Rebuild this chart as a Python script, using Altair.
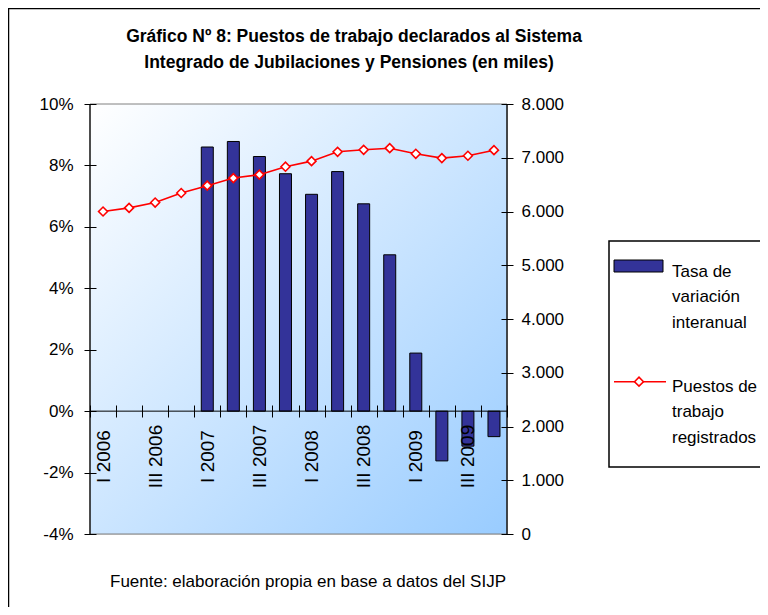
import altair as alt
import pandas as pd

quarters = ["I 2006", "II 2006", "III 2006", "IV 2006",
            "I 2007", "II 2007", "III 2007", "IV 2007",
            "I 2008", "II 2008", "III 2008", "IV 2008",
            "I 2009", "II 2009", "III 2009", "IV 2009"]
tasa = [None, None, None, None,
        8.60, 8.78, 8.29, 7.73,
        7.06, 7.80, 6.75, 5.09,
        1.89, -1.62, -1.14, -0.83]
puestos = [6000, 6067, 6167, 6344,
           6481, 6622, 6685, 6833,
           6937, 7111, 7148, 7178,
           7074, 6994, 7037, 7141]
pct_ticks = [-4, -2, 0, 2, 4, 6, 8, 10]
miles_ticks = [0, 1000, 2000, 3000, 4000, 5000, 6000, 7000, 8000]

title_lines = ["Gráfico Nº 8: Puestos de trabajo declarados al Sistema",
               "Integrado de Jubilaciones y Pensiones (en miles)"]
footer = "Fuente: elaboración propia en base a datos del SIJP"
leg_bar = ["Tasa de", "variación", "interanual"]
leg_line = ["Puestos de", "trabajo", "registrados"]

df = pd.DataFrame({"trimestre": quarters, "tasa": tasa, "puestos": puestos})
dummy = pd.DataFrame({"a": [0]})

W, H = 417, 430
FONT = "Liberation Sans"

x_axis = alt.Axis(
    orient="bottom", offset=-129, domain=False, tickSize=12, tickColor="black",
    tickBand="extent", labelAngle=270, labelAlign="center", labelBaseline="middle",
    labelPadding=39, labelFontSize=19, labelColor="black", labelFont=FONT,
    title=None, zindex=1,
    labelExpr="split(datum.value, ' ')[0] == 'II' || split(datum.value, ' ')[0] == 'IV' ? '' : datum.value",
)
x_enc = alt.X("trimestre:N", sort=quarters,
              scale=alt.Scale(paddingInner=0, paddingOuter=0), axis=x_axis)

bg = alt.Chart(dummy).mark_rect(
    fill=alt.LinearGradient(gradient="linear",
                            stops=[alt.GradientStop(color="#FFFFFF", offset=0),
                                   alt.GradientStop(color="#99CCFF", offset=1)],
                            x1=0, y1=0, x2=1, y2=1),
    stroke="#808080", strokeWidth=1,
).encode(x=alt.value(0), x2=alt.value(W), y=alt.value(0), y2=alt.value(H))

bars = alt.Chart(df).mark_bar(size=12, color="#333399", stroke="black", strokeWidth=1).encode(
    x=x_enc,
    y=alt.Y("tasa:Q", scale=alt.Scale(domain=[-4, 10], nice=False),
            axis=alt.Axis(orient="left", values=pct_ticks, offset=-6, domain=False,
                          tickSize=12, tickColor="black", labelPadding=11,
                          labelFontSize=17, labelColor="black", labelFont=FONT,
                          labelExpr="datum.value + '%'", title=None, grid=False, zindex=1)),
)
zero = alt.Chart(dummy).mark_rule(color="black", strokeWidth=1).encode(y=alt.datum(0))
dom_l = alt.Chart(dummy).mark_rule(color="black", strokeWidth=1.2).encode(
    x=alt.value(0), y=alt.value(0), y2=alt.value(H))
dom_r = alt.Chart(dummy).mark_rule(color="black", strokeWidth=1.2).encode(
    x=alt.value(W), y=alt.value(0), y2=alt.value(H))

left = alt.layer(bg, bars, zero, dom_l, dom_r)

y_r = alt.Y("puestos:Q", scale=alt.Scale(domain=[0, 8000], nice=False),
            axis=alt.Axis(orient="right", values=miles_ticks, offset=-6, domain=False,
                          tickSize=12, tickColor="black", labelPadding=8,
                          labelFontSize=17, labelColor="black", labelFont=FONT,
                          labelExpr="replace(format(datum.value, ','), ',', '.')",
                          title=None, grid=False, zindex=1))
line = alt.Chart(df).mark_line(color="#FF0000", strokeWidth=1.6).encode(x=x_enc, y=y_r)
pts = alt.Chart(df).mark_point(shape="diamond", filled=True, fill="white", stroke="#FF0000",
                               strokeWidth=1.6, size=80, opacity=1).encode(x=x_enc, y=y_r)
right = alt.layer(line, pts)

border = alt.Chart(dummy).mark_rect(filled=False, stroke="black", strokeWidth=1.5).encode(
    x=alt.value(-81.5), x2=alt.value(1000), y=alt.value(-95.5), y2=alt.value(1000))
t1 = alt.Chart(dummy).mark_text(text=title_lines[0], font=FONT, fontWeight="bold", fontSize=17.5,
                                align="center", color="black").encode(x=alt.value(264), y=alt.value(-67))
t2 = alt.Chart(dummy).mark_text(text=title_lines[1], font=FONT, fontWeight="bold", fontSize=17.5,
                                align="center", color="black").encode(x=alt.value(259), y=alt.value(-41))
foot = alt.Chart(dummy).mark_text(text=footer, font=FONT, fontSize=17, align="center",
                                  color="black").encode(x=alt.value(218), y=alt.value(478))
leg_box = alt.Chart(dummy).mark_rect(filled=False, stroke="black", strokeWidth=1.5).encode(
    x=alt.value(519), x2=alt.value(1000), y=alt.value(137), y2=alt.value(363))
leg_sw1 = alt.Chart(dummy).mark_rect(fill="#333399", stroke="black", strokeWidth=1).encode(
    x=alt.value(524), x2=alt.value(573), y=alt.value(156), y2=alt.value(168))
leg_sw2 = alt.Chart(dummy).mark_rule(color="#FF0000", strokeWidth=1.6).encode(
    x=alt.value(524), x2=alt.value(576), y=alt.value(277.7))
leg_sw3 = alt.Chart(dummy).mark_point(shape="diamond", filled=True, fill="white", stroke="#FF0000",
                                      strokeWidth=1.6, size=80, opacity=1).encode(
    x=alt.value(549), y=alt.value(277.7))
leg_t1 = alt.Chart(dummy).mark_text(text=leg_bar, font=FONT, fontSize=17, align="left",
                                    lineHeight=25.5, color="black").encode(
    x=alt.value(582), y=alt.value(167.5))
leg_t2 = alt.Chart(dummy).mark_text(text=leg_line, font=FONT, fontSize=17, align="left",
                                    lineHeight=25.5, color="black").encode(
    x=alt.value(582), y=alt.value(282.5))

chart = alt.layer(
    left, right, border, t1, t2, foot, leg_box, leg_sw1, leg_sw2, leg_sw3, leg_t1, leg_t2
).resolve_scale(y="independent").properties(
    width=W, height=H, autosize="none",
    padding={"left": 82, "top": 96, "right": 253, "bottom": 73},
).configure_view(stroke=None).configure(font=FONT)

chart.save("out.html", embed_options={"renderer": "svg", "actions": False})
